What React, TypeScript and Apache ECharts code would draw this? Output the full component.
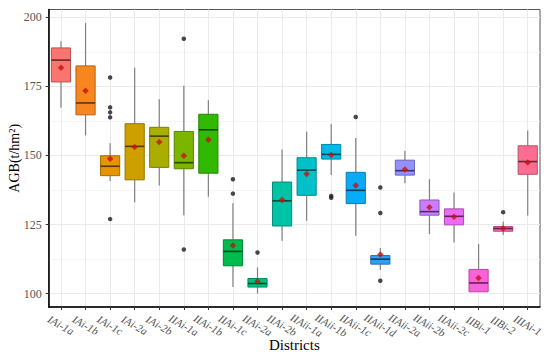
import React, { useEffect, useRef } from "react";
import * as echarts from "echarts";

const categories = [
  "IAi-1a", "IAi-1b", "IAi-1c", "IAi-2a", "IAi-2b",
  "IIAi-1a", "IIAi-1b", "IIAi-1c", "IIAi-2a", "IIAi-2b",
  "IIAii-1a", "IIAii-1b", "IIAii-1c", "IIAii-1d", "IIAii-2a",
  "IIAii-2b", "IIAii-2c", "IIBi-1", "IIBi-2", "IIIAi-1",
];
const mins = [167.3, 157.3, 140.8, 133.1, 139.1, 128.4, 135.1, 102.4, 100.1, 119.2, 126.4, 142.9, 121.0, 108.7, 140.0, 121.6, 118.5, 100.7, 121.2, 128.3];
const q1s = [176.6, 164.7, 142.7, 141.2, 145.7, 145.2, 143.6, 110.1, 102.4, 124.5, 135.6, 148.7, 132.6, 110.7, 142.9, 128.4, 124.9, 100.7, 122.6, 143.2];
const medians = [184.5, 169.0, 146.1, 153.3, 157.0, 147.4, 159.3, 115.3, 103.7, 133.6, 144.7, 150.4, 137.4, 112.5, 144.5, 129.7, 128.0, 103.9, 123.6, 147.8];
const q3s = [188.9, 182.4, 149.9, 161.5, 160.2, 158.7, 164.9, 119.5, 105.5, 140.4, 149.2, 154.0, 143.9, 113.8, 148.3, 133.9, 130.7, 108.8, 124.3, 153.5];
const maxs = [191.3, 197.9, 154.4, 181.7, 170.3, 175.2, 170.0, 132.7, 109.5, 152.2, 158.6, 161.4, 156.3, 116.5, 151.7, 141.4, 136.6, 118.0, 126.1, 159.0];
const means = [181.7, 173.4, 148.8, 153.1, 154.9, 149.9, 155.7, 117.4, 104.4, 133.9, 143.3, 150.2, 139.1, 114.2, 144.9, 131.3, 127.8, 105.7, 123.6, 147.5];
const outlierCats = ["IAi-1c", "IAi-1c", "IAi-1c", "IAi-1c", "IAi-1c", "IIAi-1a", "IIAi-1a", "IIAi-1c", "IIAi-1c", "IIAi-2a", "IIAii-1b", "IIAii-1b", "IIAii-1c", "IIAii-1d", "IIAii-1d", "IIAii-1d", "IIBi-2"];
const outlierValues = [178.2, 167.4, 165.6, 163.8, 127.0, 192.2, 116.0, 141.4, 136.2, 114.9, 135.4, 134.7, 163.9, 138.4, 129.2, 104.7, 129.5];
const yTickLabels = [100, 125, 150, 175, 200];
const yMinorLines = [112.5, 137.5, 162.5, 187.5];

const fills = [
  "#FA7470", "#F8861F", "#E69500", "#CDA000", "#ABAD00",
  "#7AB600", "#30B900", "#00BC4E", "#00C07F", "#00C3A6",
  "#00C0C8", "#00BAE6", "#08ACF6", "#2E9FF8", "#9590FF",
  "#C97CFF", "#EB6BF3", "#FA62DB", "#FF62BC", "#FF6C91",
];

function shade(hex: string, f: number): string {
  const n = parseInt(hex.slice(1), 16);
  const r = Math.round(((n >> 16) & 255) * f);
  const g = Math.round(((n >> 8) & 255) * f);
  const b = Math.round((n & 255) * f);
  return "rgb(" + r + "," + g + "," + b + ")";
}

const serif = "'Liberation Serif', 'DejaVu Serif', serif";

export default function App() {
  const ref = useRef<HTMLDivElement>(null);
  useEffect(() => {
    if (!ref.current) return;
    const chart = echarts.init(ref.current, null, { renderer: "svg" });
    const boxData = categories.map((c, i) => [i, mins[i], q1s[i], medians[i], q3s[i], maxs[i]]);
    const gridColor = "#EAEAEA";
    const option: any = {
      animation: false,
      backgroundColor: "#ffffff",
      grid: {
        left: 48.7,
        top: 9.5,
        right: 10,
        bottom: 50,
        outerBoundsMode: "none",
        containLabel: false,
        show: true,
        borderColor: "#555",
        borderWidth: 1,
        backgroundColor: "#fff",
      },
      xAxis: {
        type: "category",
        data: categories,
        boundaryGap: true,
        name: "Districts",
        nameLocation: "middle",
        nameGap: 30,
        nameMoveOverlap: false,
        nameTextStyle: { fontFamily: serif, fontSize: 15, color: "#000" },
        axisLine: { show: true, onZero: false, lineStyle: { color: "#000", width: 1.5 } },
        axisTick: { show: true, alignWithLabel: true, length: 3, lineStyle: { color: "#333" } },
        splitLine: { show: false },
        axisLabel: {
          interval: 0,
          rotate: -30,
          align: "center",
          verticalAlign: "middle",
          margin: 18,
          hideOverlap: false,
          fontFamily: serif,
          fontStyle: "italic",
          fontSize: 11,
          color: "#555",
        },
      },
      yAxis: {
        type: "value",
        min: 95.2,
        max: 202.8,
        name: "AGB(t/hm²)",
        nameLocation: "middle",
        nameGap: 27,
        nameMoveOverlap: false,
        nameTextStyle: { fontFamily: serif, fontSize: 14, color: "#000" },
        axisLine: { show: true, lineStyle: { color: "#000", width: 1.5 } },
        axisTick: { show: true, length: 3, customValues: yTickLabels, lineStyle: { color: "#333" } },
        axisLabel: {
          customValues: yTickLabels,
          margin: 7,
          fontFamily: serif,
          fontSize: 12,
          color: "#555",
        },
        splitLine: { show: false },
      },
      series: [
        {
          type: "line",
          data: [],
          silent: true,
          z: 0,
          markLine: {
            z: 0,
            silent: true,
            symbol: ["none", "none"],
            label: { show: false },
            lineStyle: { color: gridColor, width: 1, type: "solid" },
            emphasis: { disabled: true },
            data: [
              ...yTickLabels.map((v) => ({ yAxis: v })),
              ...yMinorLines.map((v) => ({ yAxis: v, lineStyle: { color: "#F2F2F2", width: 0.8, type: "solid" } })),
              ...categories.map((c) => ({ xAxis: c })),
            ],
          },
        },
        {
          type: "custom",
          z: 2,
          data: boxData,
          encode: { x: 0, y: [1, 2, 3, 4, 5] },
          renderItem: (params: any, api: any) => {
            const i = api.value(0);
            const pMin = api.coord([i, api.value(1)]);
            const pQ1 = api.coord([i, api.value(2)]);
            const pMed = api.coord([i, api.value(3)]);
            const pQ3 = api.coord([i, api.value(4)]);
            const pMax = api.coord([i, api.value(5)]);
            const w = api.size([1, 0])[0] * 0.78;
            const x = pMed[0];
            const fill = fills[params.dataIndex];
            const whisker = { stroke: "#808080", lineWidth: 1.2 };
            return {
              type: "group",
              children: [
                { type: "line", shape: { x1: x, y1: pMax[1], x2: x, y2: pQ3[1] }, style: whisker },
                { type: "line", shape: { x1: x, y1: pQ1[1], x2: x, y2: pMin[1] }, style: whisker },
                {
                  type: "rect",
                  shape: { x: x - w / 2, y: pQ3[1], width: w, height: pQ1[1] - pQ3[1] },
                  style: { fill, stroke: shade(fill, 0.72), lineWidth: 1 },
                },
                {
                  type: "line",
                  shape: { x1: x - w / 2, y1: pMed[1], x2: x + w / 2, y2: pMed[1] },
                  style: { stroke: shade(fill, 0.38), lineWidth: 1.6 },
                },
              ],
            };
          },
        },
        {
          type: "scatter",
          z: 3,
          data: outlierCats.map((c, i) => [c, outlierValues[i]]),
          symbol: "circle",
          symbolSize: 4.5,
          itemStyle: { color: "#1a1a1a" },
          silent: true,
        },
        {
          type: "scatter",
          z: 4,
          data: categories.map((c, i) => [c, means[i]]),
          symbol: "diamond",
          symbolSize: 6.5,
          itemStyle: { color: "#C81010" },
          silent: true,
        },
      ],
    };
    chart.setOption(option);
    return () => chart.dispose();
  }, []);
  return <div ref={ref} style={{ width: 550, height: 357, position: "absolute", left: 0, top: 0 }} />;
}
